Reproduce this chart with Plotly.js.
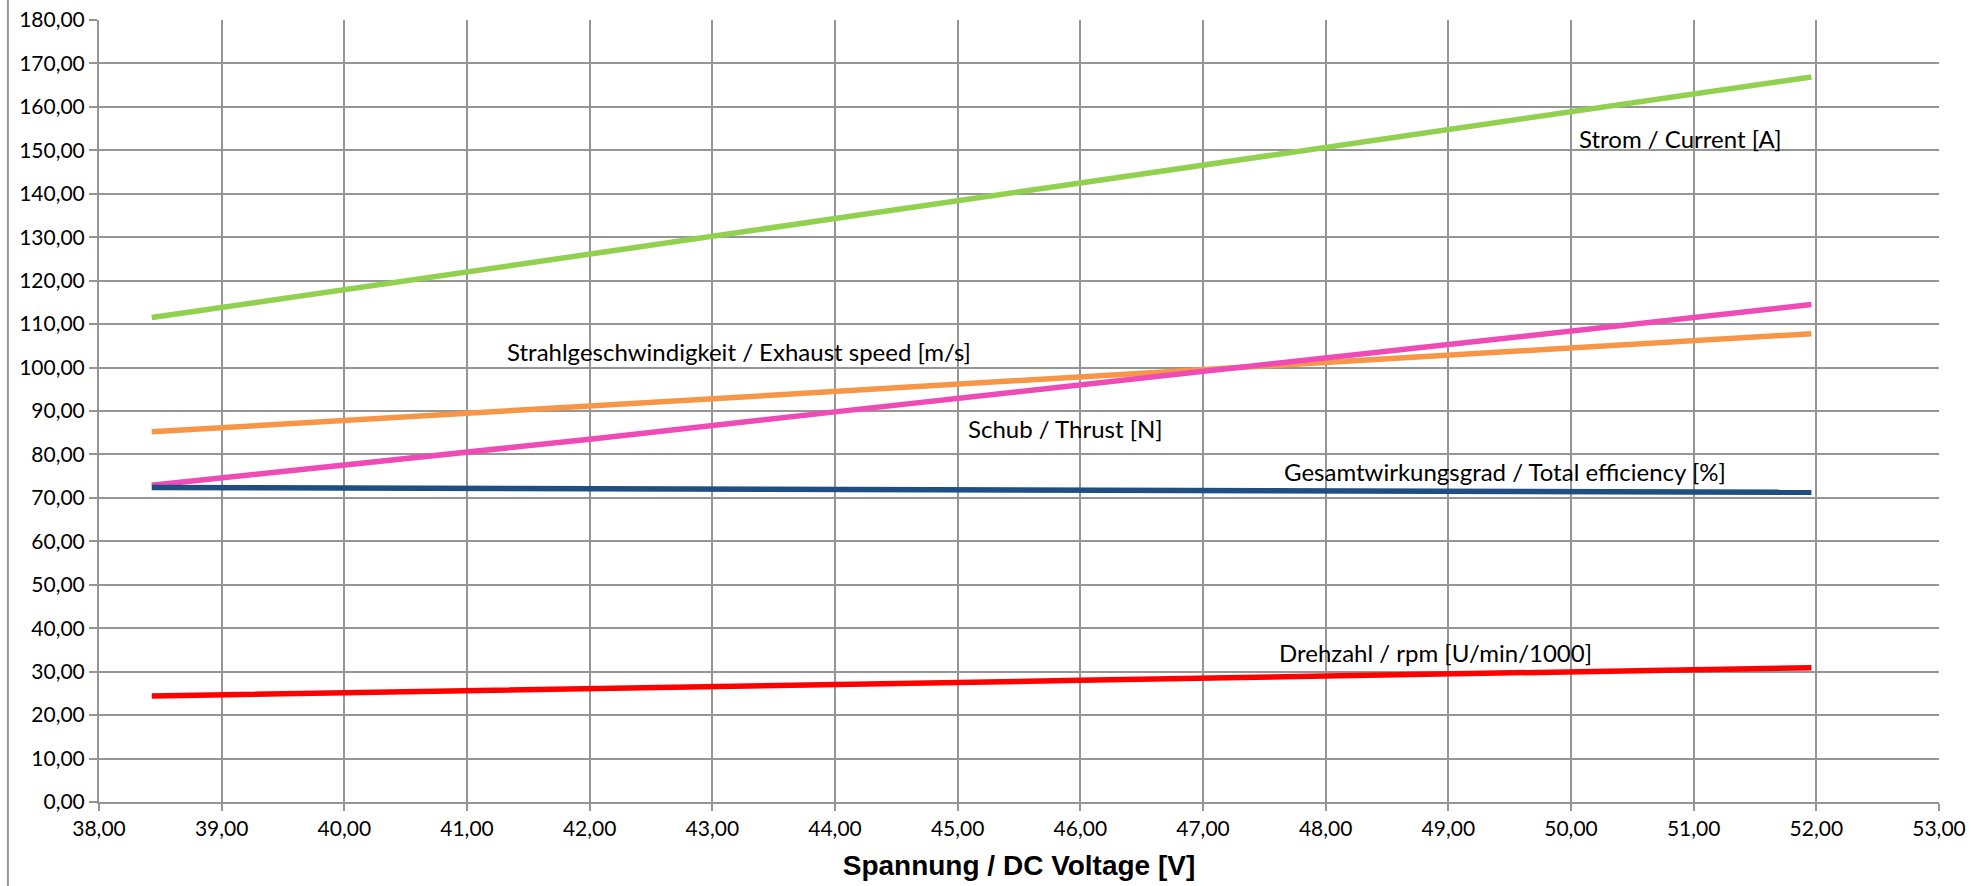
<!DOCTYPE html>
<html>
<head>
<meta charset="utf-8">
<script src="https://cdn.plot.ly/plotly-3.0.1.min.js"></script>
<style>html,body{margin:0;padding:0;background:#fff;}#chart{width:1971px;height:886px;}</style>
</head>
<body>
<div id="chart"></div>
<script>
// Voltage [V]
const voltage = [38.43, 40.0, 42.0, 44.0, 46.0, 48.0, 50.0, 51.96];
// Series values
const current    = [111.5, 118.0, 126.1, 134.3, 142.5, 150.6, 158.8, 166.9];
const exhaust    = [85.2, 87.8, 91.0, 94.4, 97.8, 101.0, 104.5, 107.8];
const thrust     = [72.9, 77.5, 83.5, 89.8, 96.0, 102.3, 108.5, 114.5];
const efficiency = [72.4, 72.3, 72.1, 72.0, 71.8, 71.6, 71.5, 71.3];
const rpm        = [24.4, 25.1, 26.1, 27.1, 28.0, 29.0, 30.0, 30.9];

const seriesNames = ["Strom / Current [A]", "Strahlgeschwindigkeit / Exhaust speed [m/s]", "Schub / Thrust [N]", "Gesamtwirkungsgrad / Total efficiency [%]", "Drehzahl / rpm [U/min/1000]"];
// label anchor positions (data coords)
const labelX = [50.05, 41.31, 45.07, 47.64, 47.60];
const labelY = [152.8, 103.8, 86.0, 76.0, 34.5];

const xTitle = "Spannung / DC Voltage [V]";

const colors = ["#92D050", "#F79646", "#EE4BB6", "#1F4E82", "#FF0000"];
const ys = [current, exhaust, thrust, efficiency, rpm];
const order = [0, 1, 2, 3, 4];

const traces = order.map(i => ({
  x: voltage, y: ys[i], type: "scatter", mode: "lines", name: seriesNames[i],
  line: {color: colors[i], width: 5.5}, hoverinfo: "x+y"
}));

const annotations = seriesNames.map((t, i) => ({
  x: labelX[i], y: labelY[i], xref: "x", yref: "y", text: t, showarrow: false,
  xanchor: "left", yanchor: "middle",
  font: {family: "Lato, 'Noto Sans', sans-serif", size: 24, color: "#000"}
}));

const gridCol = "#959595";

const layout = {
  width: 1971, height: 886,
  margin: {l: 99, r: 32, t: 20, b: 84.3, pad: 0},
  paper_bgcolor: "#fff", plot_bgcolor: "#fff",
  showlegend: false,
  separators: ",.",
  font: {family: "Lato, 'Noto Sans', sans-serif", size: 21, color: "#000"},
  xaxis: {
    range: [38, 53], dtick: 1, tick0: 38, tickformat: ".2f",
    showgrid: true, gridcolor: gridCol, gridwidth: 2,
    showline: true, linecolor: gridCol, linewidth: 2,
    ticks: "outside", ticklen: 7, tickcolor: gridCol, tickwidth: 2,
    zeroline: false, fixedrange: true,
    tickfont: {family: "Lato, sans-serif", size: 21, color: "#000"},
    title: {text: xTitle, standoff: 16, font: {family: "'Liberation Sans', Arial, sans-serif", size: 28, color: "#000", weight: "bold"}}
  },
  yaxis: {
    range: [0, 180], dtick: 10, tick0: 0, tickformat: ".2f",
    showgrid: true, gridcolor: gridCol, gridwidth: 2,
    showline: true, linecolor: gridCol, linewidth: 2,
    ticks: "outside", ticklen: 8, tickcolor: gridCol, tickwidth: 2,
    zeroline: false, fixedrange: true,
    tickfont: {family: "Lato, sans-serif", size: 21, color: "#000"}
  },
  annotations: annotations,
  shapes: [{
    type: "line", xref: "paper", yref: "paper",
    x0: -0.0495, x1: -0.0495, y0: -0.2, y1: 1.1,
    line: {color: gridCol, width: 2}
  }]
};

Plotly.newPlot("chart", traces, layout, {displayModeBar: false, staticPlot: true});
</script>
</body>
</html>
